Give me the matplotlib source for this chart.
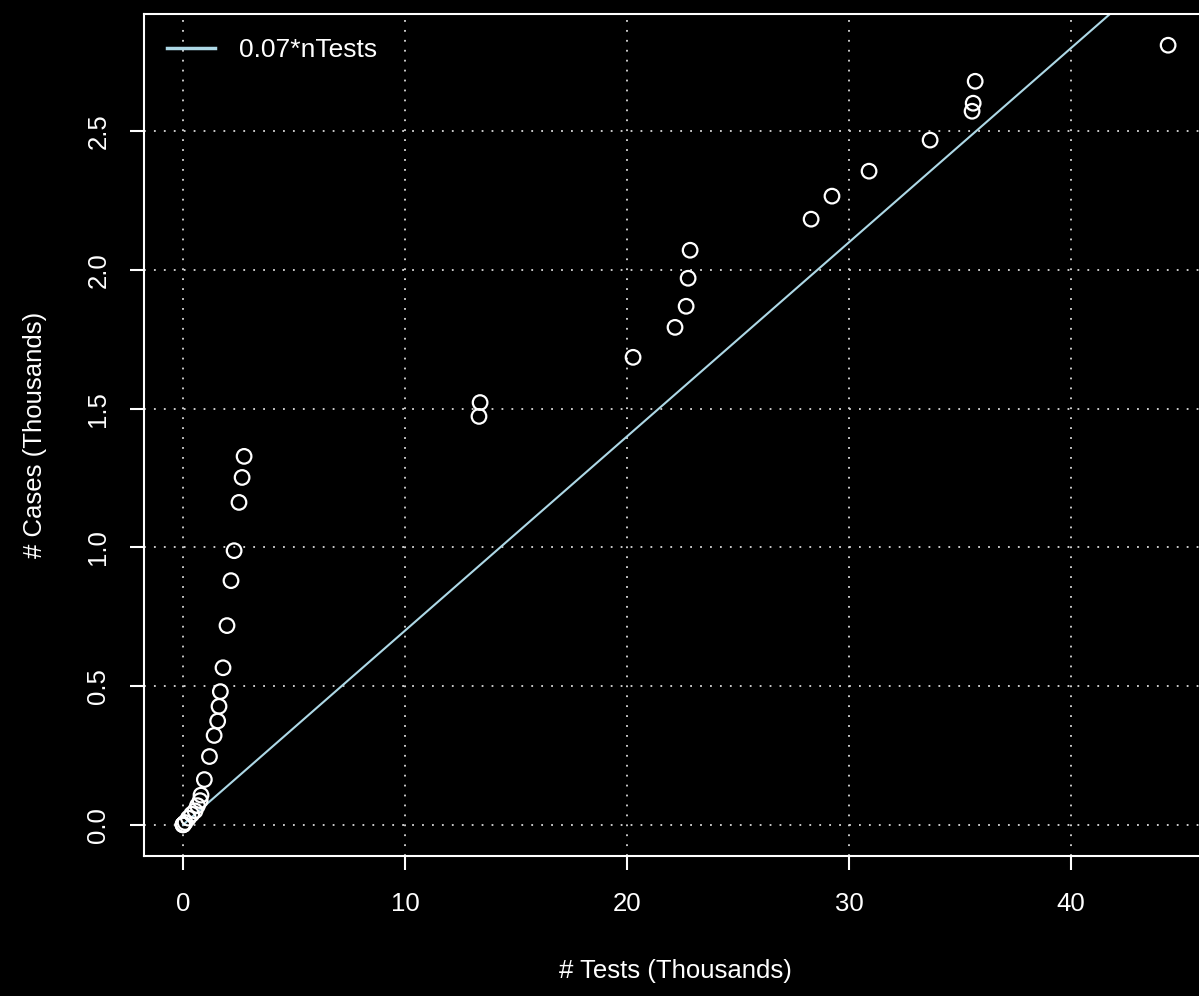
import matplotlib
matplotlib.use("Agg")
import matplotlib.pyplot as plt
import numpy as np

# tests and cases, in thousands
n_tests = [0, 0, 0, 0.02, 0.09, 0.24, 0.39, 0.54, 0.65, 0.77, 0.81, 0.96, 1.19,
           1.40, 1.56, 1.62, 1.68, 1.80, 1.98, 2.16, 2.30, 2.52, 2.66, 2.75,
           13.33, 13.38, 20.27, 22.16, 22.66, 22.75, 22.84, 28.29, 29.23,
           30.90, 33.65, 35.54, 35.59, 35.68, 44.37]
n_cases = [0, 0, 0, 0.002, 0.008, 0.024, 0.038, 0.050, 0.069, 0.087, 0.107,
           0.163, 0.246, 0.322, 0.374, 0.427, 0.480, 0.566, 0.718, 0.880,
           0.988, 1.162, 1.252, 1.328, 1.472, 1.522, 1.685, 1.793, 1.869,
           1.970, 2.071, 2.183, 2.266, 2.356, 2.468, 2.572, 2.601, 2.680, 2.810]
slope = 0.07
x_ticks = [0, 10, 20, 30, 40]
y_ticks = [0.0, 0.5, 1.0, 1.5, 2.0, 2.5]

plt.rcParams['font.family'] = ['Liberation Sans', 'DejaVu Sans']

fig = plt.figure(figsize=(11.99, 9.96), dpi=100, facecolor='black')
ax = fig.add_axes([0.1198, 0.1406, 0.8873, 0.8453])
ax.set_facecolor('black')

x = np.array(n_tests)
y = np.array(n_cases)
# R-style 4% padding
xr = x.max() - x.min()
yr = y.max() - y.min()
ax.set_xlim(x.min() - 0.04 * xr, x.max() + 0.04 * xr)
ax.set_ylim(y.min() - 0.04 * yr, y.max() + 0.04 * yr)

for v in x_ticks:
    ax.axvline(v, color='#d9d9d9', lw=1.3, ls=(0, (1, 4.5)), zorder=1)
for v in y_ticks:
    ax.axhline(v, color='#d9d9d9', lw=1.3, ls=(0, (1, 4.5)), zorder=1)

ax.scatter(x, y, s=110, facecolors='none', edgecolors='white', linewidths=1.6, zorder=3)
xs = np.sort(x)
ax.plot(xs, slope * xs, color='#add8e6', lw=1.5, zorder=2, label='0.07*nTests')

ax.set_xticks(x_ticks)
ax.set_yticks(y_ticks)
ax.set_xticklabels([str(v) for v in x_ticks])
ax.set_yticklabels(['%.1f' % v for v in y_ticks], rotation=90, va='center')
ax.tick_params(colors='white', labelcolor='white', labelsize=18.5, length=10,
               width=1.5)
ax.tick_params(axis='x', pad=16)
ax.tick_params(axis='y', pad=14)
for sp in ax.spines.values():
    sp.set_color('white')
    sp.set_linewidth(1.5)

ax.set_xlabel('# Tests (Thousands)', color='white', fontsize=18.5, labelpad=31)
ax.set_ylabel('# Cases (Thousands)', color='white', fontsize=18.5, labelpad=28)

leg = ax.legend(loc='upper left', frameon=False, fontsize=19, handlelength=1.8,
                borderaxespad=0.5, handletextpad=0.9)
for t in leg.get_texts():
    t.set_color('white')
for ln in leg.get_lines():
    ln.set_linewidth(2.5)

fig.savefig('out.png', dpi=100, facecolor='black')
